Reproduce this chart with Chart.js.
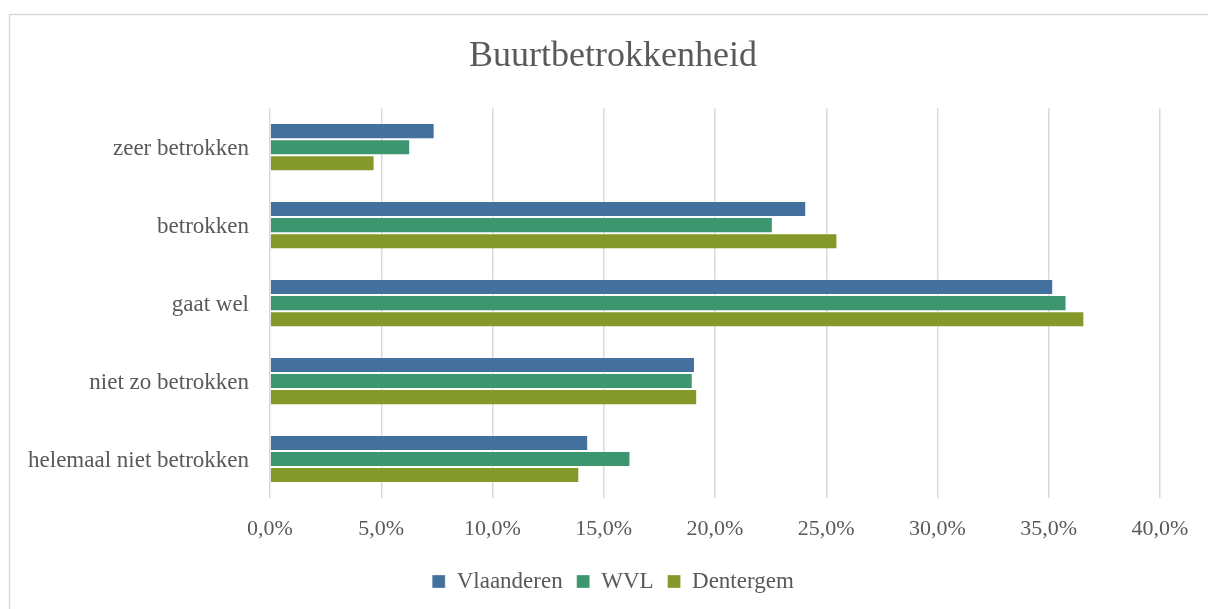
<!DOCTYPE html>
<html>

<head>
    <meta charset="UTF-8">
    <title>Buurtbetrokkenheid</title>
    <script src="https://cdn.jsdelivr.net/npm/chart.js"></script>
    <style>
        html, body { margin: 0; padding: 0; background: #fff; overflow: hidden; }
        #wrap { width: 1226px; height: 609px; }
    </style>
</head>

<body>
    <div id="wrap"><canvas id="buurtChart"></canvas></div>

    <script>
        const categories = ["zeer betrokken", "betrokken", "gaat wel", "niet zo betrokken", "helemaal niet betrokken"];
        const vlaanderen = [7.4, 24.1, 35.2, 19.1, 14.3];
        const wvl = [6.3, 22.6, 35.8, 19.0, 16.2];
        const dentergem = [4.7, 25.5, 36.6, 19.2, 13.9];

        const textColor = "#595959";
        const serif = "'Liberation Serif', 'Times New Roman', serif";

        // light frame around the whole chart, like the office chart border
        const frame = {
            id: "frame",
            beforeDraw(chart) {
                const ctx = chart.ctx;
                ctx.save();
                ctx.strokeStyle = "#d9d9d9";
                ctx.lineWidth = 1.5;
                ctx.strokeRect(9.5, 14.5, 1207, 640);
                ctx.restore();
            }
        };

        const ctx = document.getElementById("buurtChart").getContext("2d");

        new Chart(ctx, {
            type: "bar",
            data: {
                labels: categories,
                datasets: [
                    { label: "Vlaanderen", data: vlaanderen, backgroundColor: "#44709d" },
                    { label: "WVL", data: wvl, backgroundColor: "#3c9670" },
                    { label: "Dentergem", data: dentergem, backgroundColor: "#85992b" }
                ]
            },
            plugins: [frame],
            options: {
                indexAxis: "y",
                responsive: true,
                maintainAspectRatio: false,
                animation: false,
                datasets: {
                    bar: {
                        categoryPercentage: 0.618,
                        barPercentage: 1,
                        borderWidth: 1,
                        borderColor: "rgba(255,255,255,0.3)"
                    }
                },
                layout: { padding: { left: 0, right: 0, top: 0, bottom: 6 } },
                scales: {
                    x: {
                        min: 0,
                        max: 40,
                        ticks: {
                            stepSize: 5,
                            padding: 18,
                            color: textColor,
                            font: { family: serif, size: 22 },
                            callback: v => v.toFixed(1).replace(".", ",") + "%"
                        },
                        grid: { color: "#d9d9d9", lineWidth: 1.5, drawTicks: false },
                        border: { display: false },
                        afterFit: s => { s.height = 58; }
                    },
                    y: {
                        ticks: {
                            padding: 21,
                            labelOffset: 2,
                            color: textColor,
                            font: { family: serif, size: 23 }
                        },
                        grid: { display: false, drawTicks: false },
                        border: { display: false },
                        afterFit: s => { s.width = 270; }
                    },
                    // empty spacer on the right so the plot ends at 40% like the original
                    spacer: {
                        type: "category",
                        axis: "y",
                        position: "right",
                        ticks: { display: false },
                        grid: { display: false, drawTicks: false },
                        border: { display: false },
                        afterFit: s => { s.width = 66; }
                    }
                },
                plugins: {
                    title: {
                        display: true,
                        text: "Buurtbetrokkenheid",
                        color: textColor,
                        font: { family: serif, size: 36, weight: "normal" },
                        padding: { top: 35, bottom: 30 }
                    },
                    legend: {
                        position: "bottom",
                        labels: {
                            color: textColor,
                            font: { family: serif, size: 23 },
                            boxWidth: 13,
                            boxHeight: 13,
                            padding: 14
                        }
                    },
                    tooltip: { enabled: false }
                }
            }
        });
    </script>
</body>

</html>
